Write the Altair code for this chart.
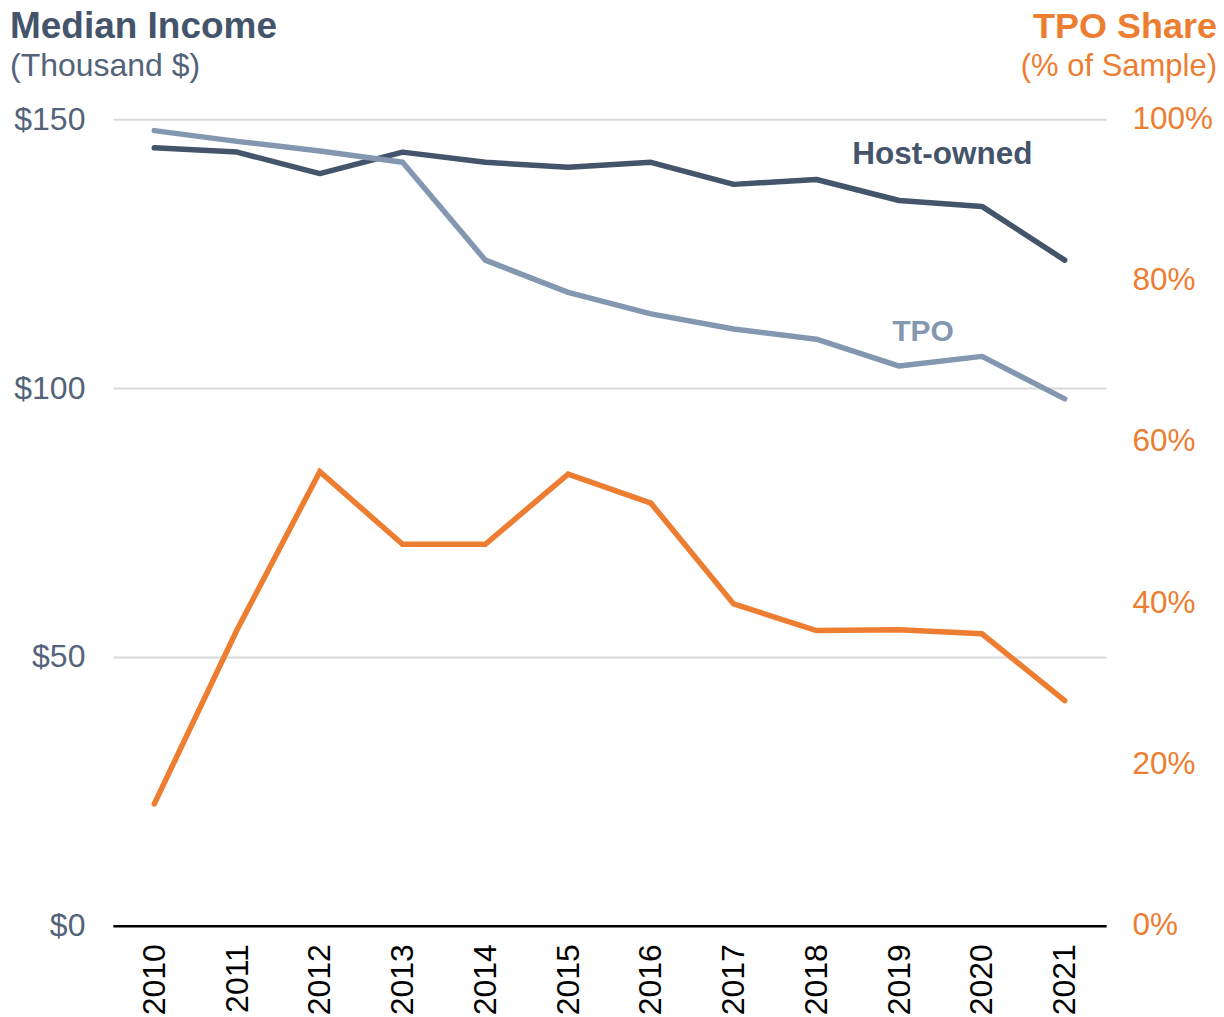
import altair as alt
import pandas as pd

years = [str(y) for y in range(2010, 2022)]
host_owned = [144.7, 143.9, 139.9, 143.9, 142.0, 141.1, 142.0, 137.9, 138.8, 134.9, 133.8, 123.8]
tpo = [147.9, 145.9, 144.1, 142.0, 123.8, 117.8, 113.8, 111.0, 109.1, 104.1, 105.9, 98.0]
tpo_share = [15.1, 36.7, 56.3, 47.3, 47.3, 56.0, 52.4, 39.9, 36.6, 36.7, 36.2, 27.9]

FONT = "Liberation Sans"
DARK = "#44546A"
LIGHT = "#8497B0"
ORANGE = "#ED7D31"
LEFT_LBL = "#536379"

income = pd.DataFrame({
    "year": years * 2,
    "value": host_owned + tpo,
    "series": ["Host-owned"] * len(years) + ["TPO"] * len(years),
})
share = pd.DataFrame({"year": years, "share": [v / 100 for v in tpo_share]})

xenc = alt.X(
    "year:O",
    scale=alt.Scale(type="point", padding=0.5),
    axis=alt.Axis(
        title=None, labelAngle=-90, labelAlign="right", labelBaseline="middle",
        labelFontSize=32, labelColor="black", labelPadding=18, ticks=False,
        domainColor="black", domainWidth=2.5, grid=False, labelFont=FONT,
    ),
)

lines = alt.Chart(income).mark_line(strokeWidth=5.5, strokeCap="round", strokeJoin="round").encode(
    x=xenc,
    y=alt.Y(
        "value:Q",
        scale=alt.Scale(domain=[0, 150], nice=False),
        axis=alt.Axis(
            title=None, values=[0, 50, 100, 150], labelExpr="'$' + datum.value",
            labelFontSize=32, labelColor=LEFT_LBL, labelPadding=28, ticks=False,
            domain=False, grid=True, gridColor="#d9d9d9", gridWidth=2, labelFont=FONT,
        ),
    ),
    color=alt.Color("series:N", scale=alt.Scale(domain=["Host-owned", "TPO"], range=[DARK, LIGHT]), legend=None),
    detail="series:N",
)

share_line = alt.Chart(share).mark_line(strokeWidth=5.5, strokeCap="round", strokeJoin="miter", color=ORANGE).encode(
    x=xenc,
    y=alt.Y(
        "share:Q",
        scale=alt.Scale(domain=[0, 1], nice=False),
        axis=alt.Axis(
            title=None, orient="right", values=[0, 0.2, 0.4, 0.6, 0.8, 1.0], format=".0%",
            labelFontSize=31.5, labelColor=ORANGE, labelPadding=26, ticks=False,
            domain=False, grid=False, labelFont=FONT,
        ),
    ),
)

def txt(text, x, y, size, color, bold=False, align="left"):
    return alt.Chart(pd.DataFrame({"t": [text]})).mark_text(
        font=FONT, fontSize=size, fontWeight="bold" if bold else "normal",
        color=color, align=align, baseline="alphabetic",
    ).encode(text="t:N", x=alt.value(x), y=alt.value(y))

labels = [
    txt("Median Income", -103, -81, 37, DARK, bold=True),
    txt("(Thousand $)", -103, -43, 32, LEFT_LBL),
    txt("TPO Share", 1105, -81, 36, ORANGE, bold=True, align="right"),
    txt("(% of Sample)", 1105, -43, 31, ORANGE, align="right"),
    txt("Host-owned", 740, 45, 31.5, DARK, bold=True),
    txt("TPO", 780, 222, 30, LIGHT, bold=True),
]

chart = alt.layer(lines, share_line, *labels).resolve_scale(y="independent").properties(
    width=994, height=807,
    autosize=alt.AutoSizeParams(type="none"),
    padding={"left": 105, "top": 111, "right": 110, "bottom": 90},
).configure_view(stroke=None)

chart.save("out.html", embed_options={"renderer": "svg", "actions": False})
